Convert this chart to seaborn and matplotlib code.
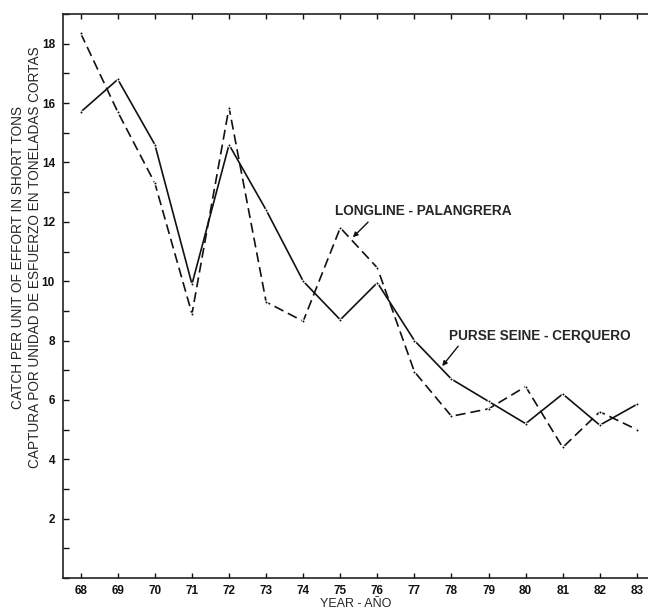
import matplotlib
matplotlib.use("Agg")
import matplotlib.pyplot as plt
import seaborn as sns
import pandas as pd
from matplotlib.ticker import MultipleLocator

# Catch per unit of effort (short tons), 1968-1983
years = [68, 69, 70, 71, 72, 73, 74, 75, 76, 77, 78, 79, 80, 81, 82, 83]
purse_seine = [15.7, 16.8, 14.6, 9.9, 14.6, 12.4, 10.0, 8.7, 9.95, 8.0, 6.7, 5.95, 5.2, 6.2, 5.15, 5.85]
longline = [18.35, 15.7, 13.3, 8.9, 15.85, 9.3, 8.65, 11.8, 10.45, 6.95, 5.45, 5.7, 6.45, 4.4, 5.6, 5.0]

x_ticklabels = [str(y) for y in years]
y_ticks = [2, 4, 6, 8, 10, 12, 14, 16, 18]

df = pd.DataFrame({
    "year": years * 2,
    "cpue": purse_seine + longline,
    "gear": ["PURSE SEINE - CERQUERO"] * len(years) + ["LONGLINE - PALANGRERA"] * len(years),
})

sns.set_style("ticks")
plt.rcParams["font.family"] = ["Liberation Sans", "DejaVu Sans"]

fig = plt.figure(figsize=(6.48, 6.09), dpi=100)
ax = fig.add_axes([0.0977, 0.0509, 0.9023, 0.926])

sns.lineplot(
    data=df, x="year", y="cpue", style="gear",
    dashes={"PURSE SEINE - CERQUERO": "", "LONGLINE - PALANGRERA": (6, 3)},
    markers={"PURSE SEINE - CERQUERO": "o", "LONGLINE - PALANGRERA": "o"},
    markersize=2.2, color="#111111", linewidth=1.2, legend=False, ax=ax,
)

ax.set_xlim(67.53, 83.3)
ax.set_ylim(0, 19)

ax.set_xticks(years)
ax.set_xticklabels(x_ticklabels, fontsize=8.5, fontweight="bold")
ax.set_yticks(y_ticks)
ax.set_yticklabels([str(v) for v in y_ticks], fontsize=8.5, fontweight="bold")
ax.yaxis.set_minor_locator(MultipleLocator(1))

ax.tick_params(axis="x", which="both", direction="in", length=3.5, width=1.0,
               top=True, bottom=True, pad=5, colors="#111111")
ax.tick_params(axis="y", which="both", direction="in", length=4.5, width=1.0,
               left=True, right=False, pad=6, colors="#111111")

for side in ("left", "bottom", "top"):
    ax.spines[side].set_linewidth(1.2)
    ax.spines[side].set_color("#222222")
ax.spines["right"].set_visible(False)

ax.set_xlabel("YEAR - AÑO", fontsize=9, labelpad=1)
ax.set_ylabel("CATCH PER UNIT OF EFFORT IN SHORT TONS\n"
              "CAPTURA POR UNIDAD DE ESFUERZO EN TONELADAS CORTAS",
              fontsize=9.8, linespacing=1.2)
ax.yaxis.set_label_coords(-0.037, 0.568)

# Curve labels with short leader arrows
label_style = dict(fontsize=9.8, fontweight="bold", ha="center", va="center")
arrow = dict(arrowstyle="-|>", color="#111111", lw=1.0, mutation_scale=7,
             shrinkA=0, shrinkB=0)

ax.text(77.23, 12.36, "LONGLINE - PALANGRERA", **label_style)
ax.annotate("", xy=(75.34, 11.48), xytext=(75.75, 11.99), arrowprops=arrow)

ax.text(80.39, 8.15, "PURSE SEINE - CERQUERO", **label_style)
ax.annotate("", xy=(77.75, 7.14), xytext=(78.18, 7.81), arrowprops=arrow)

fig.savefig("out.png", dpi=100)
